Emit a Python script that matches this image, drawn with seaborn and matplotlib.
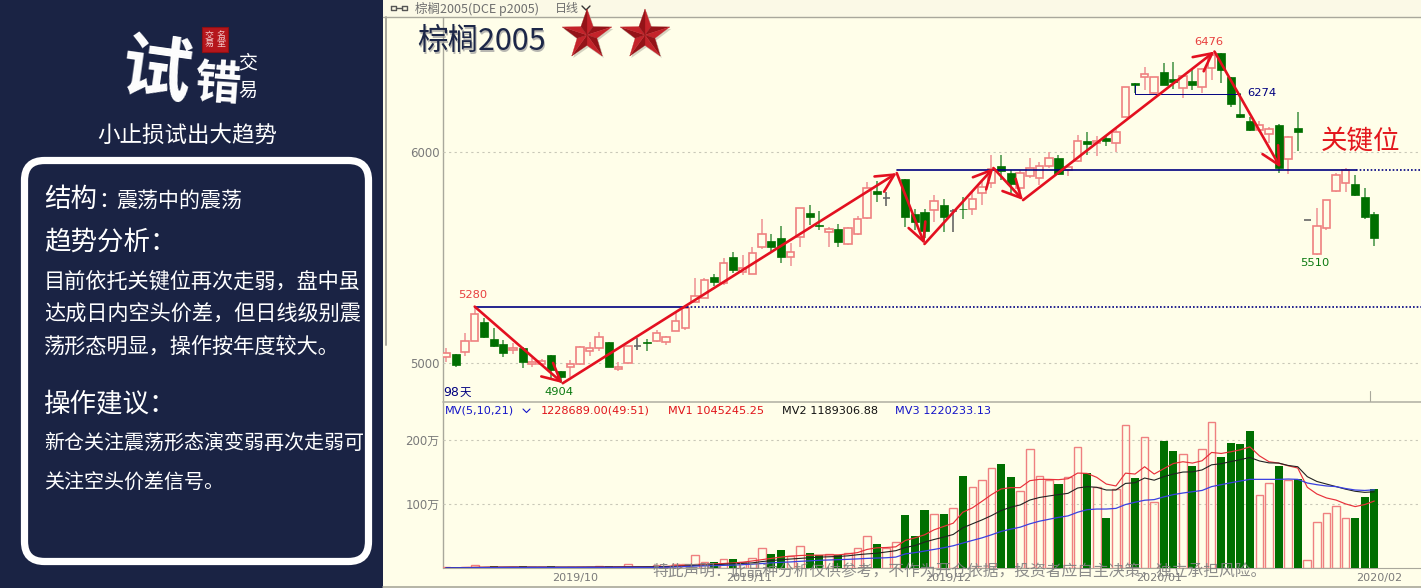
import numpy as np
import pandas as pd
import matplotlib
matplotlib.use("Agg")
import matplotlib.pyplot as plt
from matplotlib.patches import FancyBboxPatch, Rectangle, Polygon
import seaborn as sns

nan = float("nan")
opens = [5027,5043,5053,5104,5193,5114,5090,5060,5072,4995,
 4995,5038,4963,4982,4995,5058,5070,5098,4970,5001,
 5082,5098,5106,5101,5153,5166,5290,5307,5409,5378,
 5504,5433,5422,5548,5580,5594,5504,5599,5709,5653,
 5621,5635,5562,5610,5689,5815,5782,nan,5871,5705,
 5714,5724,5749,5722,5732,5730,5804,5852,5934,5899,
 5831,5886,5878,5934,5970,5915,5957,6054,6041,6065,
 6044,6167,6328,6354,6281,6381,6346,6302,6338,6309,
 6397,6468,6356,6180,6148,6104,6084,6128,5965,6112,
 5678,5515,5641,5817,5852,5850,5788,5705]
closes = [5049,4990,5104,5231,5122,5082,5049,5072,5003,5006,
 5009,4967,4935,4995,5074,5072,5122,4982,4982,5080,
 5082,5096,5141,5122,5200,5261,5319,5393,5382,5472,
 5441,5452,5520,5610,5551,5504,5527,5733,5693,5651,
 5635,5575,5638,5681,5831,5800,5782,nan,5693,5670,
 5626,5769,5693,5722,5730,5777,5836,5919,5911,5847,
 5899,5926,5935,5970,5894,5929,6054,6038,6052,6054,
 6096,6307,6318,6368,6357,6318,6333,6360,6319,6392,
 6460,6389,6226,6164,6104,6128,6108,5923,6070,6096,
 5678,5651,5772,5890,5915,5796,5693,5594]
highs = [5071,5043,5143,5267,5213,5166,5109,5096,5075,5024,
 5019,5038,4963,5014,5080,5101,5148,5098,5006,5080,
 5118,5114,5156,5128,5237,5267,5404,5403,5422,5496,
 5527,5512,5551,5681,5611,5651,5567,5735,5749,5720,
 5646,5659,5646,5697,5859,5864,5809,nan,5871,5730,
 5730,5796,5777,5728,5788,5812,5867,5986,5986,5915,
 5915,5972,5954,6001,5986,5938,6081,6096,6076,6076,
 6112,6308,6328,6404,6357,6423,6428,6360,6389,6397,
 6476,6468,6356,6278,6164,6148,6120,6133,6076,6191,
 5678,5733,5772,5899,5923,5891,5831,5717]
lows = [5006,4981,5033,5104,5118,5077,5030,5043,4978,4980,
 4986,4919,4904,4935,4990,5033,5058,4980,4963,5001,
 5061,5057,5098,5085,5153,5156,5284,5307,5365,5370,
 5428,5417,5422,5539,5532,5472,5460,5551,5654,5630,
 5551,5548,5559,5607,5681,5762,5744,nan,5646,5630,
 5592,5670,5622,5622,5681,5701,5749,5829,5867,5806,
 5788,5877,5844,5924,5891,5888,5954,5986,5981,6028,
 6001,6166,6278,6294,6277,6318,6299,6255,6294,6281,
 6341,6326,6215,6160,6101,6096,6041,5899,5894,6006,
 5678,5510,5630,5812,5812,5793,5681,5554]
volumes = [1,0.8,1.2,5,1,2.5,1,1,3.5,1,1,3,1,0.8,1,1,3,3,1,5.7,1,2,4,1,7,6,
 20.7,10,10,13.5,14.5,9.3,15.5,31,21.7,28,18.6,35,23.8,21,22,21,23,31,50.7,36.8,30.5,40,82,50,
 90.7,84.4,85,93.8,143.5,125.9,137,156,162.7,142.5,
 120,186,143.5,138,131,142.5,188.6,147.6,126,78,
 122.8,222.7,140,204,103,198.4,181.8,177.7,159.5,185,
 227.4,172.5,195.3,194,213,114,132,158.5,138,139,
 12,72.5,85.5,96,78,78,111,122.9]
mv1 = [0.4,0.5,0.8,1.1,1.3,1.5,1.5,1.6,1.5,1.4,1.4,1.4,1.3,1.3,1.4,1.5,1.7,1.8,1.9,2.0,
 2.0,2.1,2.2,2.5,3.5,4.0,5.5,6.0,6.5,7.0,8,9,11,13,15,17,18.5,19.5,20,20,
 20.5,20.5,22,24,29,31.5,32,33,43,47,
 51.8,59.6,64.8,69.9,87,93.8,104,114.5,123.3,125.4,125.4,136.2,138.3,138.3,137.8,139.3,148.1,147.6,141.4,131,
 128,148,146.6,158,146.6,155,163,165.8,163.7,167.3,180.3,178.7,181.3,184.4,189,175,165.8,163.7,159.5,156,
 125.9,115.5,109.3,106,100,95.8,99,104.5]
mv2 = [0.3,0.4,0.6,0.8,1,1.1,1.2,1.3,1.3,1.3,1.3,1.3,1.3,1.3,1.3,1.4,1.4,1.5,1.6,1.7,
 1.8,1.9,2,2.2,2.5,3,4,4.5,5,5.7,6.5,7.2,8,10,11.5,13,14,15,16,17,
 17.5,18,19,20.7,22,23,25,27,32,35,
 40.4,44.5,48.2,52.3,62.7,68.9,75,81.8,89.6,94.8,98.4,106,110,112.4,114.5,116.5,124.8,126.9,125.9,121.7,
 121.7,132,133,140.4,137,142.5,146.6,149.7,150,153,161,162.7,166,169,172.5,167,164,163.7,160,158,
 142.5,135,131,127,123,119.7,118,118.9]
mv3 = [0.2,0.3,0.4,0.5,0.6,0.7,0.8,0.8,0.8,0.9,0.9,0.9,0.9,0.9,0.9,1,1,1,1,1,
 1,1,1,1.2,1.6,2.2,3,3.3,3.7,4.1,4.5,5.2,6,7,8,8.8,9.5,10.4,11.2,12,
 12.5,13,13.5,14.2,15,15.5,16,17,22,24,
 26.4,29,31.6,34.7,38.9,43,47,51.8,57,60.6,63.7,68.9,73,76,79,81.3,87,91,92,92,
 93,99,102.6,105.7,106.7,110.9,114.5,117,119,121,127,130,133,135.7,138.3,138.3,138.3,138.3,138.8,138.3,
 132.6,130,128,127,124,121.7,121,122]

swing_idx = [3, 12.2, 47.1, 50, 57.2, 60.3, 80.3, 87.2]
swing_price = [5267, 4904, 5900, 5564, 5924, 5772, 6476, 5926]
level_low = 5267
level_key = 5915
level_mid = 6274
month_pos = [13.5, 31.7, 52.5, 74.5, 97.5]
month_labels = ["2019/10", "2019/11", "2019/12", "2020/01", "2020/02"]

sns.set_theme(style="white")
plt.rcParams["font.family"] = ["Noto Sans CJK SC", "DejaVu Sans"]
plt.rcParams["axes.unicode_minus"] = False

W, H = 1421, 588
NAVY = "#1a2344"
PAPER = "#fffee9"
GREEN = "#006f00"
PINK = "#ef8080"
fig = plt.figure(figsize=(W / 100, H / 100), dpi=100, facecolor=NAVY)

def rect_px(x0, y0, x1, y1):
    return [x0 / W, 1 - y1 / H, (x1 - x0) / W, (y1 - y0) / H]

bg = fig.add_axes([0, 0, 1, 1], zorder=0)
bg.set_xlim(0, W); bg.set_ylim(H, 0); bg.axis("off")
bg.add_patch(Rectangle((383, 0), W - 383, H, fc=PAPER, ec="none"))
bg.add_patch(Rectangle((383, 0), W - 383, 17, fc="#fbf9e6", ec="none"))
bg.plot([383, W], [17, 17], color="#a9a89c", lw=1)
bg.plot([386, 386], [17, 345], color="#a9a89c", lw=1.4)
bg.plot([443, 443], [17, 568], color="#a9a89c", lw=1)
bg.plot([443, W], [401.5, 401.5], color="#b5b4a8", lw=1.2)
bg.plot([383, W], [586.5, 586.5], color="#a9a89c", lw=1.2)
bg.plot([1370, 1370], [391, 401], color="#a9a89c", lw=0.8)

# left panel
bg.add_patch(FancyBboxPatch((24.5, 160.5), 344, 401, boxstyle="round,pad=0,rounding_size=20",
                            fc=NAVY, ec="white", lw=5.2))
fg = fig.add_axes([0, 0, 1, 1], zorder=5)
fg.set_xlim(0, W); fg.set_ylim(H, 0); fg.axis("off"); fg.patch.set_alpha(0)

def T(x, y, s, px, color="white", **kw):
    kw.setdefault("ha", "left")
    kw.setdefault("va", "center")
    if "family" not in kw:
        y = y + 1.5
    return fg.text(x, y, s, fontsize=px * 0.72, color=color, **kw)

T(156, 72, "试", 70, weight="bold", ha="center", rotation=-8)
T(217, 83, "错", 46, weight="bold", ha="center", rotation=-4)
T(248, 61, "交", 19, ha="center")
T(248, 89, "易", 19, ha="center")
fg.add_patch(Rectangle((202, 27), 26, 25, fc="#b5161c", ec="#8d1014", lw=0.8))
T(209, 38, "交\n易", 9, color="#f3c9c9", ha="center", linespacing=0.95)
T(221, 38, "名\n堂", 9, color="#f3c9c9", ha="center", linespacing=0.95)
T(187, 134, "小止损试出大趋势", 22.5, ha="center")
T(44, 198, "结构", 26.5)
T(98, 199, "：", 22)
T(116, 199, "震荡中的震荡", 21)
T(44, 241, "趋势分析：", 26.5)
T(44, 280, "目前依托关键位再次走弱，盘中虽", 21.2)
T(44, 313, "达成日内空头价差，但日线级别震", 21.2)
T(44, 345, "荡形态明显，操作按年度较大。", 21.2)
T(44, 403, "操作建议：", 26.5)
T(44, 442, "新仓关注震荡形态演变弱再次走弱可", 20)
T(44, 482, "关注空头价差信号。", 20)

# header
bg.plot([391, 396, 396, 391, 391], [6, 6, 10, 10, 6], color="#555555", lw=1)
bg.plot([402, 407, 407, 402, 402], [6, 6, 10, 10, 6], color="#555555", lw=1)
bg.plot([396, 402], [8, 8], color="#555555", lw=1)
T(415, 7, "棕榈2005(DCE p2005)", 12.5, color="#6e6e6e")
T(555, 7, "日线", 12, color="#6e6e6e")
bg.plot([582, 586, 590], [6, 10, 6], color="#333333", lw=1)
T(418.5, 42.5, "棕榈2005", 30.5, color="#9a9a9a", alpha=0.7)
T(417, 40.5, "棕榈2005", 30.5, color="#1c2748")

def star(cx, cy, R=26):
    ang = np.deg2rad(np.arange(10) * 36 - 90)
    rad = np.where(np.arange(10) % 2 == 0, R, R * 0.4)
    px = cx + rad * np.cos(ang); py = cy + rad * np.sin(ang)
    fg.add_patch(Polygon(np.c_[px + 1.5, py + 2], fc="#b9b7a6", ec="none", alpha=0.6))
    for k in range(10):
        a, b = k, (k + 1) % 10
        col = "#c4232a" if k % 2 == 0 else "#941318"
        fg.add_patch(Polygon([(cx, cy), (px[a], py[a]), (px[b], py[b])], fc=col, ec=col, lw=0.2))
star(587, 35)
star(645, 35)

# price panel
x0i = -0.313; x1i = 101.88
ax1 = fig.add_axes(rect_px(443, 18, W, 401), zorder=2)
ax1.patch.set_alpha(0)
idx = np.arange(len(opens))
o, h, l, c = map(np.array, (opens, highs, lows, closes))
up = c > o
dn = c < o
eq = c == o
ax1.vlines(idx[up], l[up], h[up], color="#f09a9a", lw=1.2, zorder=2)
ax1.vlines(idx[dn], l[dn], h[dn], color="#4f9a4f", lw=1.2, zorder=2)
ax1.vlines(idx[eq], l[eq], h[eq], color="#666666", lw=1.2, zorder=2)
ax1.bar(idx[up], (c - o)[up], bottom=o[up], width=0.78, fc=PAPER, ec=PINK, lw=1.2, zorder=3)
ax1.bar(idx[dn], (o - c)[dn], bottom=c[dn], width=0.84, fc=GREEN, ec=GREEN, lw=0.5, zorder=3)
ax1.hlines(c[eq], idx[eq] - 0.38, idx[eq] + 0.38, color="#666666", lw=1.2, zorder=3)

ax1.set_xlim(x0i, x1i)
ax1.set_ylim(4819.7, 6635)
ax1.set_yticks([5000, 6000], ["5000", "6000"])
ax1.set_xticks([])
ax1.tick_params(axis="y", length=2, width=0.6, color="#999999", labelcolor="#7a7a7a", labelsize=8.5, pad=0.5)
for lb in ax1.get_yticklabels():
    lb.set_fontfamily("DejaVu Sans")
ax1.grid(axis="y", color="#c9c8b8", lw=0.8, ls=(0, (2, 3)))
ax1.set_axisbelow(True)
for s in ax1.spines.values():
    s.set_visible(False)

NV = "#000080"
ax1.plot([3, 25.2], [level_low] * 2, color=NV, lw=1.2, zorder=4)
ax1.plot([25.2, x1i], [level_low] * 2, color=NV, lw=1.2, ls=(0, (1, 1.2)), zorder=4)
ax1.plot([47.1, 95.1], [level_key] * 2, color=NV, lw=1.2, zorder=4)
ax1.plot([95.1, x1i], [level_key] * 2, color=NV, lw=1.2, ls=(0, (1, 1.2)), zorder=4)
ax1.plot([72, 72, 83], [6318, level_mid, level_mid], color=NV, lw=0.7, zorder=4)

for k in range(len(swing_idx) - 1):
    ax1.annotate("", xy=(swing_idx[k + 1], swing_price[k + 1]), xytext=(swing_idx[k], swing_price[k]),
                 arrowprops=dict(arrowstyle="->,head_length=0.75,head_width=0.38", color="#e31020", lw=1.9,
                                 shrinkA=0, shrinkB=0, mutation_scale=17), zorder=6)

T(473, 295, "5280", 11.5, color="#e8403f", ha="center", family="DejaVu Sans")
T(559, 392, "4904", 11.5, color="#0c7a12", ha="center", family="DejaVu Sans")
T(1209, 42, "6476", 11.5, color="#e8403f", ha="center", family="DejaVu Sans")
T(1262, 93, "6274", 11.5, color=NV, ha="center", family="DejaVu Sans")
T(1315, 263, "5510", 11.5, color="#0c7a12", ha="center", family="DejaVu Sans")
T(1361, 141, "关键位", 26.5, color="#e3161c", ha="center")
T(443, 392, "98", 12.5, color=NV, family="DejaVu Sans")
T(460, 390.5, "天", 11.5, color=NV)

# volume panel
ax2 = fig.add_axes(rect_px(443, 402, W, 568), zorder=2)
ax2.patch.set_alpha(0)
df = pd.DataFrame({"i": idx, "vol": volumes, "mv1": mv1, "mv2": mv2, "mv3": mv3,
                   "green": dn})
sns.barplot(data=df[~df.green], x="i", y="vol", native_scale=True, color=PINK, fill=False,
            width=0.8, errorbar=None, linewidth=1.0, ax=ax2, zorder=3)
sns.barplot(data=df[df.green], x="i", y="vol", native_scale=True, color=GREEN, saturation=1,
            width=0.84, errorbar=None, linewidth=0, ax=ax2, zorder=3)
sns.lineplot(data=df, x="i", y="mv1", color="#e8303a", lw=0.85, ax=ax2, zorder=4)
sns.lineplot(data=df, x="i", y="mv2", color="#222222", lw=0.8, ax=ax2, zorder=4)
sns.lineplot(data=df, x="i", y="mv3", color="#3a40e0", lw=0.9, ax=ax2, zorder=4)
ax2.set_xlim(x0i, x1i)
ax2.set_ylim(0, 259)
ax2.set_xlabel(""); ax2.set_ylabel("")
ax2.set_yticks([100, 200], ["100万", "200万"])
ax2.set_xticks(month_pos, month_labels)
ax2.tick_params(axis="y", length=2, width=0.6, color="#999999", labelcolor="#7a7a7a", labelsize=8.5, pad=0.5)
ax2.tick_params(axis="x", length=0, labelcolor="#7a7a7a", labelsize=8, pad=3.5)
for lb in ax2.get_yticklabels() + ax2.get_xticklabels():
    lb.set_fontfamily(["DejaVu Sans", "Noto Sans CJK SC"])
ax2.grid(axis="y", color="#c9c8b8", lw=0.8, ls=(0, (2, 3)))
ax2.set_axisbelow(True)
for name, s in ax2.spines.items():
    s.set_visible(name == "bottom")
ax2.spines["bottom"].set_color("#a9a89c")
ax2.spines["bottom"].set_linewidth(0.8)

# legend row
for x, s, col in [(445, "MV(5,10,21)", "#1414c8"), (541, "1228689.00(49:51)", "#e0141a"),
                  (668, "MV1 1045245.25", "#e0141a"), (782, "MV2 1189306.88", "#111111"),
                  (895, "MV3 1220233.13", "#1414c8")]:
    T(x, 410.5, s, 11.2, color=col, family="DejaVu Sans")
fg.plot([523, 526.5, 530], [409, 412.5, 409], color="#1414c8", lw=0.8)

T(652, 570.5, "特此声明：此品种分析仅供参考，不作为开仓依据，投资者应自主决策，独立承担风险。", 15.8,
  color="#808080", alpha=0.9)

fig.savefig("out.png", dpi=100, facecolor=NAVY)
